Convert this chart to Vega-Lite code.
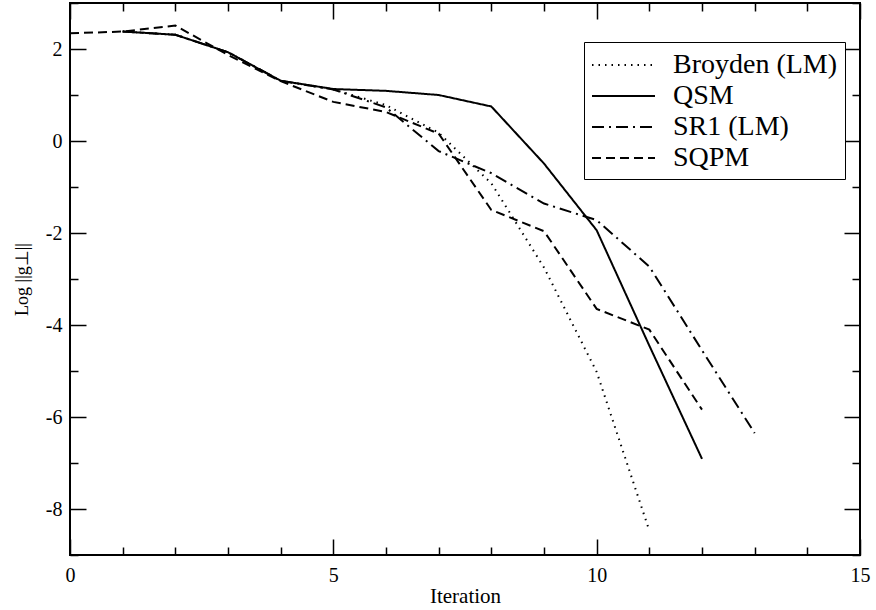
{
  "$schema": "https://vega.github.io/schema/vega-lite/v6.json",
  "width": 790,
  "height": 552,
  "autosize": {"type": "none"},
  "padding": {"left": 70, "top": 3, "right": 16, "bottom": 55},
  "background": "white",
  "config": {
    "view": {"stroke": "black", "strokeWidth": 2},
    "font": "Liberation Serif",
    "axis": {
      "domain": false,
      "grid": false,
      "tickColor": "black",
      "tickWidth": 1.5,
      "labelFont": "Liberation Serif",
      "labelFontSize": 20,
      "labelColor": "black",
      "labelFlush": false,
      "titleFont": "Liberation Serif",
      "titleFontSize": 21,
      "titleFontWeight": "normal",
      "titleColor": "black"
    },
    "legend": {
      "labelFont": "Liberation Serif",
      "labelFontSize": 28,
      "labelColor": "black"
    }
  },
  "data": {
    "values": [
      {"method": "Broyden (LM)", "iter": 1, "v": 2.38},
      {"method": "Broyden (LM)", "iter": 2, "v": 2.31},
      {"method": "Broyden (LM)", "iter": 3, "v": 1.93},
      {"method": "Broyden (LM)", "iter": 4, "v": 1.31},
      {"method": "Broyden (LM)", "iter": 5, "v": 1.12},
      {"method": "Broyden (LM)", "iter": 6, "v": 0.78},
      {"method": "Broyden (LM)", "iter": 7, "v": 0.18},
      {"method": "Broyden (LM)", "iter": 8, "v": -0.92},
      {"method": "Broyden (LM)", "iter": 9, "v": -2.75},
      {"method": "Broyden (LM)", "iter": 10, "v": -5.02},
      {"method": "Broyden (LM)", "iter": 11, "v": -8.47},
      {"method": "QSM", "iter": 1, "v": 2.38},
      {"method": "QSM", "iter": 2, "v": 2.31},
      {"method": "QSM", "iter": 3, "v": 1.93},
      {"method": "QSM", "iter": 4, "v": 1.31},
      {"method": "QSM", "iter": 5, "v": 1.13},
      {"method": "QSM", "iter": 6, "v": 1.09},
      {"method": "QSM", "iter": 7, "v": 1.0},
      {"method": "QSM", "iter": 8, "v": 0.75},
      {"method": "QSM", "iter": 9, "v": -0.49},
      {"method": "QSM", "iter": 10, "v": -1.94},
      {"method": "QSM", "iter": 11, "v": -4.45},
      {"method": "QSM", "iter": 12, "v": -6.91},
      {"method": "SR1 (LM)", "iter": 1, "v": 2.38},
      {"method": "SR1 (LM)", "iter": 2, "v": 2.31},
      {"method": "SR1 (LM)", "iter": 3, "v": 1.93},
      {"method": "SR1 (LM)", "iter": 4, "v": 1.31},
      {"method": "SR1 (LM)", "iter": 5, "v": 1.12},
      {"method": "SR1 (LM)", "iter": 6, "v": 0.73},
      {"method": "SR1 (LM)", "iter": 7, "v": -0.22},
      {"method": "SR1 (LM)", "iter": 8, "v": -0.7},
      {"method": "SR1 (LM)", "iter": 9, "v": -1.36},
      {"method": "SR1 (LM)", "iter": 10, "v": -1.72},
      {"method": "SR1 (LM)", "iter": 11, "v": -2.73},
      {"method": "SR1 (LM)", "iter": 12, "v": -4.55},
      {"method": "SR1 (LM)", "iter": 13, "v": -6.35},
      {"method": "SQPM", "iter": 0, "v": 2.34},
      {"method": "SQPM", "iter": 1, "v": 2.38},
      {"method": "SQPM", "iter": 2, "v": 2.51},
      {"method": "SQPM", "iter": 3, "v": 1.87},
      {"method": "SQPM", "iter": 4, "v": 1.3},
      {"method": "SQPM", "iter": 5, "v": 0.85},
      {"method": "SQPM", "iter": 6, "v": 0.63},
      {"method": "SQPM", "iter": 7, "v": 0.16},
      {"method": "SQPM", "iter": 8, "v": -1.5},
      {"method": "SQPM", "iter": 9, "v": -1.96},
      {"method": "SQPM", "iter": 10, "v": -3.65},
      {"method": "SQPM", "iter": 11, "v": -4.1},
      {"method": "SQPM", "iter": 12, "v": -5.84}
    ]
  },
  "layer": [
    {
      "mark": {"type": "line", "color": "black", "strokeCap": "butt"},
      "encoding": {
        "x": {
          "field": "iter", "type": "quantitative",
          "scale": {"domain": [0, 15], "nice": false, "zero": false},
          "axis": {
            "title": "Iteration",
            "values": [0,1,2,3,4,5,6,7,8,9,10,11,12,13,14,15],
            "labelExpr": "datum.value % 5 === 0 ? toString(datum.value) : ''",
            "tickSize": {"condition": {"test": "datum.value % 5 === 0", "value": -16}, "value": -8},
            "labelPadding": 26,
            "titlePadding": 0
          }
        },
        "y": {
          "field": "v", "type": "quantitative",
          "scale": {"domain": [-9, 3], "nice": false, "zero": false},
          "axis": {
            "title": "Log ||g⊥||",
            "titleFontSize": 18,
            "values": [-9,-8,-7,-6,-5,-4,-3,-2,-1,0,1,2,3],
            "labelExpr": "datum.value % 2 === 0 ? toString(datum.value) : ''",
            "tickSize": {"condition": {"test": "datum.value % 2 === 0", "value": -16}, "value": -8},
            "labelPadding": 24,
            "titlePadding": 14
          }
        },
        "strokeDash": {
          "field": "method", "type": "nominal",
          "scale": {
            "domain": ["Broyden (LM)", "QSM", "SR1 (LM)", "SQPM"],
            "range": [[1.5, 5], [1, 0], [12, 5, 2, 5], [9, 5]]
          },
          "legend": {
            "title": null,
            "orient": "none",
            "legendX": 514,
            "legendY": 39,
            "strokeColor": "black",
            "fillColor": "white",
            "padding": 7,
            "symbolType": "M-1.0,0H3.2",
            "symbolSize": 900,
            "symbolStrokeColor": "black",
            "symbolStrokeWidth": 1.5,
            "labelFont": "Liberation Serif",
            "labelFontSize": 28,
            "labelColor": "black",
            "labelOffset": 50,
            "rowPadding": 1,
            "labelLimit": 400
          }
        },
        "strokeWidth": {
          "field": "method", "type": "nominal",
          "scale": {
            "domain": ["Broyden (LM)", "QSM", "SR1 (LM)", "SQPM"],
            "range": [2, 2, 2, 1]
          },
          "legend": null
        }
      }
    },
    {
      "mark": {"type": "line", "opacity": 0},
      "encoding": {
        "x": {
          "field": "iter", "type": "quantitative",
          "scale": {"domain": [0, 15], "nice": false, "zero": false},
          "axis": {
            "orient": "top", "title": null, "labels": false,
            "values": [0,1,2,3,4,5,6,7,8,9,10,11,12,13,14,15],
            "tickSize": {"condition": {"test": "datum.value % 5 === 0", "value": -16}, "value": -8}
          }
        },
        "y": {
          "field": "v", "type": "quantitative",
          "scale": {"domain": [-9, 3], "nice": false, "zero": false},
          "axis": {
            "orient": "right", "title": null, "labels": false,
            "values": [-9,-8,-7,-6,-5,-4,-3,-2,-1,0,1,2,3],
            "tickSize": {"condition": {"test": "datum.value % 2 === 0", "value": -16}, "value": -8}
          }
        },
        "detail": {"field": "method", "type": "nominal"}
      }
    }
  ],
  "resolve": {"axis": {"x": "independent", "y": "independent"}}
}
